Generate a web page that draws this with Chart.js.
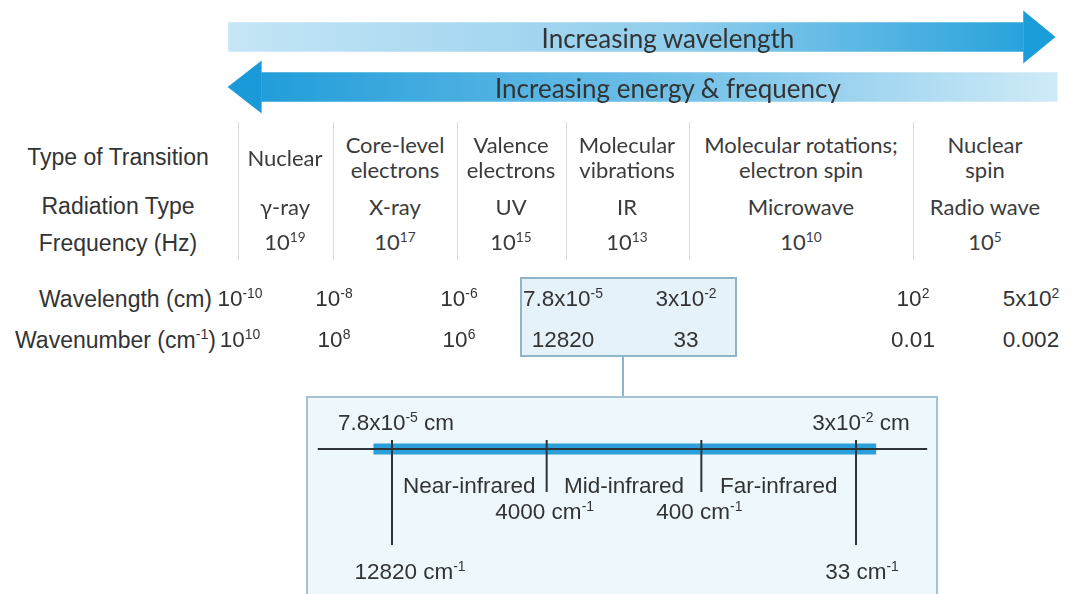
<!DOCTYPE html>
<html lang="en">
<head>
<meta charset="UTF-8">
<title>Electromagnetic spectrum</title>
<script src="https://cdn.jsdelivr.net/npm/chart.js"></script>
<style>
    body {
        margin: 0;
        width: 1077px;
        height: 594px;
        overflow: hidden;
        position: relative;
        background: #fff;
        font-family: 'Liberation Sans', Arimo, Arial, sans-serif;
        color: #333;
    }
    .abs { position: absolute; white-space: nowrap; }
    .mid { transform: translate(-50%, -50%); text-align: center; }
    .cell { font-family: Lato, sans-serif; font-size: 22px; line-height: 25px; color: #3b3b3b; }
    .label { font-size: 23px; }
    .val { font-size: 22.5px; }
    .arrowText { font-family: Lato, sans-serif; font-size: 26px; color: #333; }
    .sep { position: absolute; width: 1px; top: 122px; height: 138px; background: #dadada; }
    sup { font-size: 0.62em; vertical-align: baseline; position: relative; top: -0.6em; }
    .smallbox { position: absolute; left: 520px; top: 277px; width: 217px; height: 80px;
        background: #e5f2fa; border: 2px solid #8fb5c9; box-sizing: border-box; }
    .connector { position: absolute; left: 622px; top: 356px; width: 2px; height: 41px; background: #8fb5c9; }
    .inset { position: absolute; left: 306px; top: 396px; width: 632px; height: 220px;
        background: #eef7fc; border: 2px solid #a3c2d2; box-sizing: border-box; }
    #arrows { position: absolute; left: 220px; top: 0; }
    #irAxis { position: absolute; left: 306px; top: 396px; }
</style>
</head>
<body>

<div class="smallbox"></div>
<div class="connector"></div>
<div class="inset"></div>
<canvas id="arrows" width="850" height="125"></canvas>
<canvas id="irAxis" width="632" height="198"></canvas>

<script>
    // data
    const arrowLabels = ['Increasing wavelength', 'Increasing energy & frequency'];
    const arrowBody = [[1, 94.5], [98.5, 4.9]];   // tail -> start of head (0-100 across the band)
    const arrowTip = [98.3, 0.9];

    const rowLabels = ['Type of Transition', 'Radiation Type', 'Frequency (Hz)'];
    const transitions = [['Nuclear'], ['Core-level', 'electrons'], ['Valence', 'electrons'],
        ['Molecular', 'vibrations'], ['Molecular rotations;', 'electron spin'], ['Nuclear', 'spin']];
    const radiationTypes = ['γ-ray', 'X-ray', 'UV', 'IR', 'Microwave', 'Radio wave'];
    const frequencies = ['10^19', '10^17', '10^15', '10^13', '10^10', '10^5'];

    const wavelengths = ['10^-10', '10^-8', '10^-6', '7.8x10^-5', '3x10^-2', '10^2', '5x10^2'];
    const wavenumbers = ['10^10', '10^8', '10^6', '12820', '33', '0.01', '0.002'];

    const irRegions = ['Near-infrared', 'Mid-infrared', 'Far-infrared'];
    const irBoundaries = ['12820', '4000', '400', '33'];           // cm-1
    const irWavelengthEnds = ['7.8x10^-5', '3x10^-2'];             // cm

    // layout
    const colCenters = [285, 395, 511, 627, 801, 985];
    const separators = [238, 333, 457, 566, 689, 913];
    const rowY = [157, 206, 243];
    const lowerCenters = [240, 334, 459, 563, 686, 913, 1031];
    const lowerY = [299, 340];

    function fmt(s) {
        const i = s.indexOf('^');
        return i < 0 ? s : s.slice(0, i) + '<sup>' + s.slice(i + 1) + '</sup>';
    }
    function put(html, x, y, cls) {
        const d = document.createElement('div');
        d.className = 'abs mid ' + cls;
        d.innerHTML = html;
        d.style.left = x + 'px';
        d.style.top = y + 'px';
        document.body.appendChild(d);
        return d;
    }

    // table
    rowLabels.forEach((t, r) => put(t, 118, rowY[r], 'label'));
    separators.forEach(x => {
        const s = document.createElement('div');
        s.className = 'sep';
        s.style.left = x + 'px';
        document.body.appendChild(s);
    });
    transitions.forEach((lines, c) => put(lines.join('<br>'), colCenters[c], rowY[0], 'cell'));
    radiationTypes.forEach((t, c) => put(t, colCenters[c], rowY[1], 'cell'));
    frequencies.forEach((t, c) => put(fmt(t), colCenters[c], rowY[2], 'cell'));

    const wl = put('Wavelength (cm)', 0, lowerY[0], 'label');
    wl.style.transform = 'translate(-100%,-50%)'; wl.style.left = '212px';
    const wn = put('Wavenumber (cm<sup>-1</sup>)', 0, lowerY[1], 'label');
    wn.style.transform = 'translate(-100%,-50%)'; wn.style.left = '216px';
    wavelengths.forEach((t, i) => put(fmt(t), lowerCenters[i], lowerY[0], 'val'));
    wavenumbers.forEach((t, i) => put(fmt(t), lowerCenters[i], lowerY[1], 'val'));

    // arrows: gradient light -> strong, head takes the colour of the tip end
    const arrowColors = [['#c6e6f6', '#8fcdec', '#1b9dda'], ['#1a9ad8', '#74c1e8', '#d3ecf8']];
    const headColors = ['#1b9dda', '#1a9ad8'];
    const arrowHeads = {
        id: 'arrowHeads',
        afterDatasetsDraw(chart) {
            const ctx = chart.ctx, x = chart.scales.x;
            chart.getDatasetMeta(0).data.forEach((bar, i) => {
                const half = bar.height / 2 + 12;
                const baseX = x.getPixelForValue(arrowBody[i][1]);
                const tipX = x.getPixelForValue(arrowTip[i]);
                ctx.save();
                ctx.fillStyle = headColors[i];
                ctx.beginPath();
                ctx.moveTo(baseX, bar.y - half);
                ctx.lineTo(tipX, bar.y);
                ctx.lineTo(baseX, bar.y + half);
                ctx.closePath();
                ctx.fill();
                ctx.restore();
            });
        }
    };
    function arrowFill(c) {
        const chart = c.chart, area = chart.chartArea;
        if (!area) return arrowColors[c.dataIndex][0];
        const g = chart.ctx.createLinearGradient(area.left, 0, area.right, 0);
        const cols = arrowColors[c.dataIndex];
        g.addColorStop(0, cols[0]);
        g.addColorStop(0.55, cols[1]);
        g.addColorStop(1, cols[2]);
        return g;
    }
    const arrowChart = new Chart(document.getElementById('arrows'), {
        type: 'bar',
        data: {
            labels: arrowLabels,
            datasets: [{
                data: arrowBody,
                backgroundColor: arrowFill,
                borderWidth: 0,
                barThickness: 29
            }]
        },
        options: {
            indexAxis: 'y',
            responsive: false,
            animation: false,
            layout: { padding: { top: 12, bottom: 13, left: 0, right: 0 } },
            scales: {
                x: { type: 'linear', min: 0, max: 100, display: false },
                y: { display: false }
            },
            plugins: { legend: { display: false }, tooltip: { enabled: false } }
        },
        plugins: [arrowHeads]
    });
    arrowLabels.forEach((t, i) => {
        put(t.replace('&', '&amp;'), 220 + arrowChart.scales.x.getPixelForValue(52.7),
            arrowChart.scales.y.getPixelForValue(i) + 1, 'arrowText');
    });

    // IR inset axis
    const last = irBoundaries.length - 1;
    const tickSets = irBoundaries.map((b, i) => ({
        data: [{ x: i, y: 0.9 }, { x: i, y: (i === 0 || i === last) ? -9.6 : -4.3 }],
        borderColor: '#2e3338',
        borderWidth: 2
    }));
    const irChart = new Chart(document.getElementById('irAxis'), {
        type: 'scatter',
        data: {
            datasets: [
                ...tickSets,
                { data: [{ x: -0.48, y: 0 }, { x: last + 0.46, y: 0 }], borderColor: '#2e3338', borderWidth: 2 },
                { data: [{ x: -0.12, y: 0 }, { x: last + 0.13, y: 0 }], borderColor: '#2a9fd9', borderWidth: 11 }
            ].map(d => Object.assign(d, { showLine: true, pointRadius: 0, borderCapStyle: 'butt' }))
        },
        options: {
            responsive: false,
            animation: false,
            layout: { padding: 0 },
            scales: {
                x: { type: 'linear', min: -0.556, max: 3.53, display: false },
                y: { type: 'linear', min: -14.5, max: 5.3, display: false }
            },
            plugins: { legend: { display: false }, tooltip: { enabled: false } }
        }
    });

    const px = v => 306 + irChart.scales.x.getPixelForValue(v);
    put(fmt(irWavelengthEnds[0]) + ' cm', px(0) + 4, 423, 'val');
    put(fmt(irWavelengthEnds[1]) + ' cm', px(last) + 5, 423, 'val');
    irRegions.forEach((t, i) => put(t, (px(i) + px(i + 1)) / 2, 486, 'val'));
    put(irBoundaries[1] + ' cm<sup>-1</sup>', px(1) - 2, 512, 'val');
    put(irBoundaries[2] + ' cm<sup>-1</sup>', px(2) - 2, 512, 'val');
    put(irBoundaries[0] + ' cm<sup>-1</sup>', px(0) + 18, 572, 'val');
    put(irBoundaries[last] + ' cm<sup>-1</sup>', px(last) + 6, 572, 'val');
</script>
</body>
</html>
